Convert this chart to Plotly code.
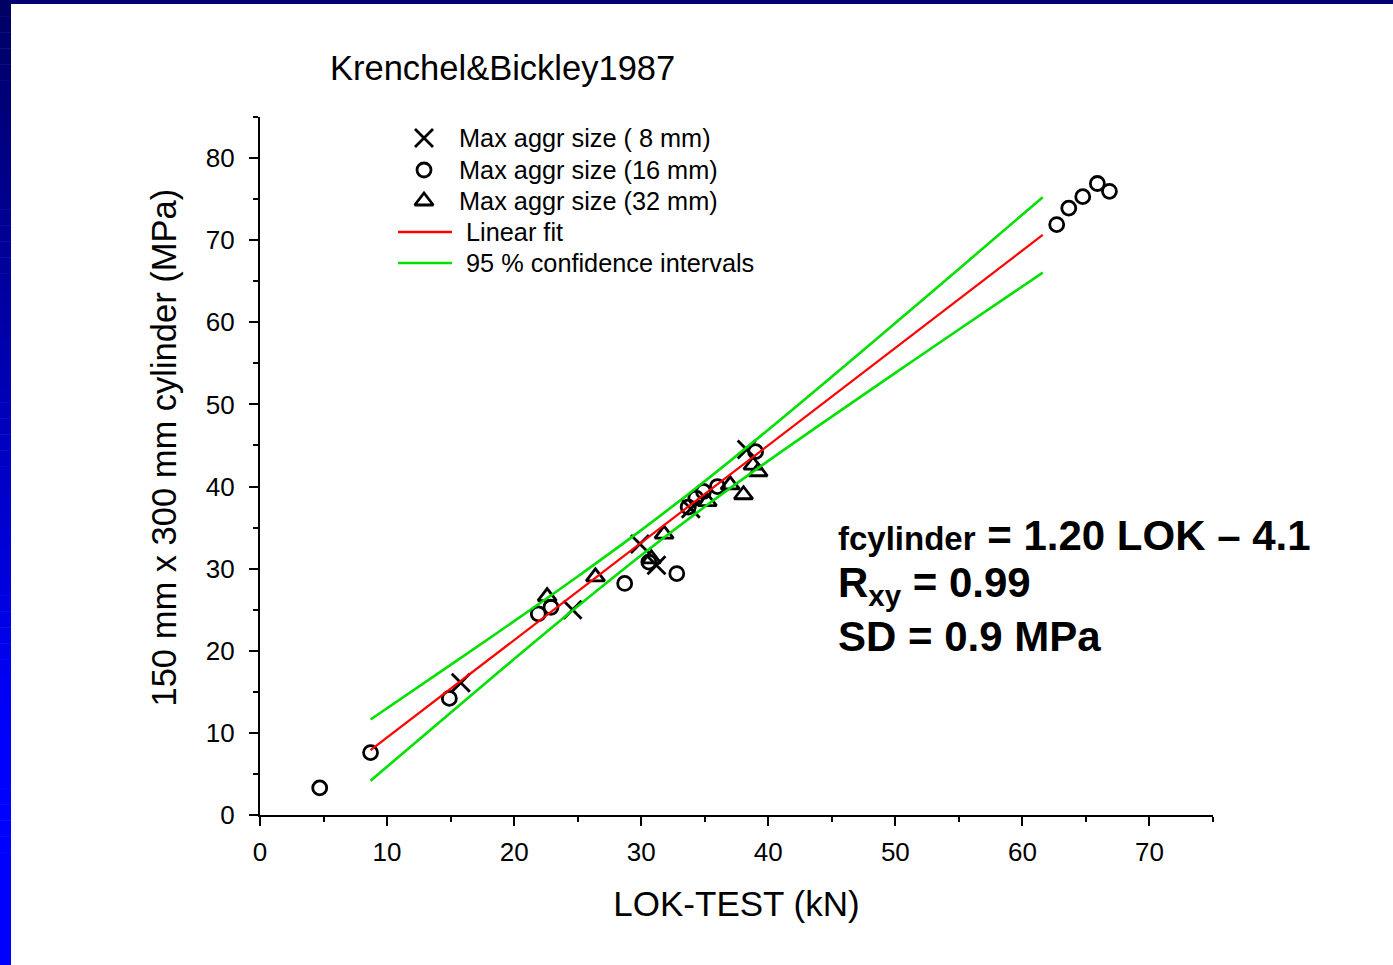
import plotly.graph_objects as go

# ---------------- data ----------------
x8 = [15.8, 24.6, 29.9, 31.2, 33.9, 38.3]
y8 = [16.1, 25.0, 33.0, 30.4, 37.3, 44.5]

x16 = [4.7, 8.7, 14.9, 21.9, 22.9, 28.7, 30.6, 32.8, 33.7, 34.3, 34.9, 36.0, 39.0,
       62.7, 63.65, 64.75, 65.9, 66.85]
y16 = [3.3, 7.6, 14.2, 24.5, 25.3, 28.2, 30.8, 29.4, 37.5, 38.6, 39.4, 40.0, 44.25,
       71.9, 73.9, 75.3, 76.9, 75.95]

x32 = [22.6, 26.4, 30.8, 31.8, 35.2, 37.0, 38.05, 38.8, 39.2]
y32 = [26.6, 29.0, 31.2, 34.2, 38.15, 40.2, 39.0, 42.6, 41.8]

fit_x = [8.7, 61.6]
fit_y = [7.9, 70.64]

ci_x = [8.7, 15, 20, 25, 30, 35, 40, 45, 50, 55, 61.6]
ci_upper = [11.63, 18.28, 23.61, 29.05, 34.69, 40.65, 46.92, 53.38, 59.92, 66.50, 75.23]
ci_lower = [4.17, 12.46, 18.99, 25.41, 31.63, 37.53, 43.12, 48.52, 53.84, 59.12, 66.05]

x_ticks = [0, 10, 20, 30, 40, 50, 60, 70]
y_ticks = [0, 10, 20, 30, 40, 50, 60, 70, 80]

title_text = "Krenchel&Bickley1987"
x_title = "LOK-TEST (kN)"
y_title = "150 mm x 300 mm cylinder (MPa)"
legend_labels = ["Max aggr size ( 8 mm)", "Max aggr size (16 mm)", "Max aggr size (32 mm)",
                 "Linear fit", "95 % confidence intervals"]
eq_lines = [
    "<span style='font-size:33px'>fcylinder</span> = 1.20 LOK \u2013 4.1",
    "R<sub>xy</sub> = 0.99",
    "SD = 0.9 MPa",
]

# ---------------- figure ----------------
FONT = "Arial, 'Liberation Sans', sans-serif"
W, H = 1393, 965
ML, MR, MT, MB = 260, 180, 117, 150
pw, ph = W - ML - MR, H - MT - MB


def px2paper_x(px):
    return (px - ML) / pw


def px2paper_y(py):
    return (H - MB - py) / ph


BLACK = "black"
RED = "#ff0000"
GREEN = "#00e000"
mk8 = dict(symbol="x-thin-open", size=18, color=BLACK, line=dict(width=2.8, color=BLACK))
mk16 = dict(symbol="circle-open", size=14, color=BLACK, line=dict(width=2.8, color=BLACK))
mk32 = dict(symbol="triangle-up-open", size=16, color=BLACK, line=dict(width=2.8, color=BLACK))

fig = go.Figure()
fig.add_trace(go.Scatter(x=x8, y=y8, mode="markers", name=legend_labels[0], marker=mk8))
fig.add_trace(go.Scatter(x=x16, y=y16, mode="markers", name=legend_labels[1], marker=mk16))
fig.add_trace(go.Scatter(x=x32, y=y32, mode="markers", name=legend_labels[2], marker=mk32))
fig.add_trace(go.Scatter(x=fit_x, y=fit_y, mode="lines", name=legend_labels[3],
                         line=dict(color=RED, width=2.2)))
fig.add_trace(go.Scatter(x=ci_x, y=ci_upper, mode="lines", name=legend_labels[4],
                         line=dict(color=GREEN, width=2.6, shape="spline")))
fig.add_trace(go.Scatter(x=ci_x, y=ci_lower, mode="lines", name=legend_labels[4],
                         line=dict(color=GREEN, width=2.6, shape="spline")))

# legend symbols drawn on an overlay axis pair spanning the paper
leg_rows = [138, 170, 201, 232, 263]
leg_sym_x = 424
for mk, ry in zip([mk8, mk16, mk32], leg_rows[:3]):
    fig.add_trace(go.Scatter(x=[px2paper_x(leg_sym_x)], y=[px2paper_y(ry)], mode="markers",
                             marker=mk, xaxis="x2", yaxis="y2", hoverinfo="skip"))
for col, ry in zip([RED, GREEN], leg_rows[3:]):
    fig.add_trace(go.Scatter(x=[px2paper_x(398), px2paper_x(452)],
                             y=[px2paper_y(ry), px2paper_y(ry)], mode="lines",
                             line=dict(color=col, width=2.4), xaxis="x2", yaxis="y2",
                             hoverinfo="skip"))

axis_common = dict(showline=True, linecolor=BLACK, linewidth=2.2, mirror=False,
                   ticks="outside", ticklen=9, tickwidth=2.2, tickcolor=BLACK,
                   showgrid=False, zeroline=False,
                   tickfont=dict(family=FONT, size=26, color=BLACK),
                   minor=dict(ticks="outside", ticklen=5, tickwidth=2.2,
                              tickcolor=BLACK, dtick=5, showgrid=False))

fig.update_xaxes(range=[0, 75], tickvals=x_ticks, ticktext=[str(v) for v in x_ticks],
                 ticklabelstandoff=4,
                 title=dict(text=x_title, font=dict(family=FONT, size=35, color=BLACK),
                            standoff=25),
                 **axis_common)
fig.update_yaxes(range=[0, 85], tickvals=y_ticks, ticktext=[str(v) for v in y_ticks],
                 ticklabelstandoff=9, **axis_common)

# border strips (top navy, left gradient)
shapes = []
shapes.append(dict(type="rect", xref="paper", yref="paper", layer="above",
                   x0=px2paper_x(0), x1=px2paper_x(W), y0=px2paper_y(4), y1=px2paper_y(0),
                   fillcolor="#000070", line=dict(width=0)))
nb = 60
for i in range(nb):
    ya, yb = H * i / nb, H * (i + 1) / nb
    ym = (ya + yb) / 2
    b = int(min(255, 100 + 0.21 * ym))
    shapes.append(dict(type="rect", xref="paper", yref="paper", layer="above",
                       x0=px2paper_x(0), x1=px2paper_x(11),
                       y0=px2paper_y(yb + 0.5), y1=px2paper_y(ya),
                       fillcolor=f"rgb(0,0,{b})", line=dict(width=0)))

annotations = [
    dict(text=title_text, xref="paper", yref="paper", x=px2paper_x(502), y=px2paper_y(68),
         xanchor="center", yanchor="middle", showarrow=False,
         font=dict(family=FONT, size=34.5, color=BLACK)),
    dict(text=y_title, xref="paper", yref="paper", x=px2paper_x(163), y=px2paper_y(447.5),
         xanchor="center", yanchor="middle", textangle=-90, showarrow=False,
         font=dict(family=FONT, size=34.5, color=BLACK)),
]
for i, (lab, ry) in enumerate(zip(legend_labels, leg_rows)):
    tx = 457 if i < 3 else 464
    annotations.append(dict(text=lab, xref="paper", yref="paper", x=px2paper_x(tx),
                            y=px2paper_y(ry), xanchor="left", yanchor="middle",
                            showarrow=False, font=dict(family=FONT, size=25.3, color=BLACK)))
eq_y = [535, 585, 636]
for t, yy in zip(eq_lines, eq_y):
    annotations.append(dict(text="<b>" + t + "</b>", xref="paper", yref="paper",
                            x=px2paper_x(836), y=px2paper_y(yy), xanchor="left",
                            yanchor="middle", showarrow=False,
                            font=dict(family=FONT, size=42, color=BLACK)))

fig.update_layout(
    width=W, height=H,
    margin=dict(l=ML, r=MR, t=MT, b=MB, pad=0),
    paper_bgcolor="white", plot_bgcolor="white",
    shapes=shapes, annotations=annotations,
    showlegend=False,
    xaxis2=dict(overlaying="x", range=[0, 1], visible=False, fixedrange=True),
    yaxis2=dict(overlaying="y", range=[0, 1], visible=False, fixedrange=True),
)

fig.write_html("out.html", config={"displayModeBar": False},
               post_script="document.body.style.margin='0';")
